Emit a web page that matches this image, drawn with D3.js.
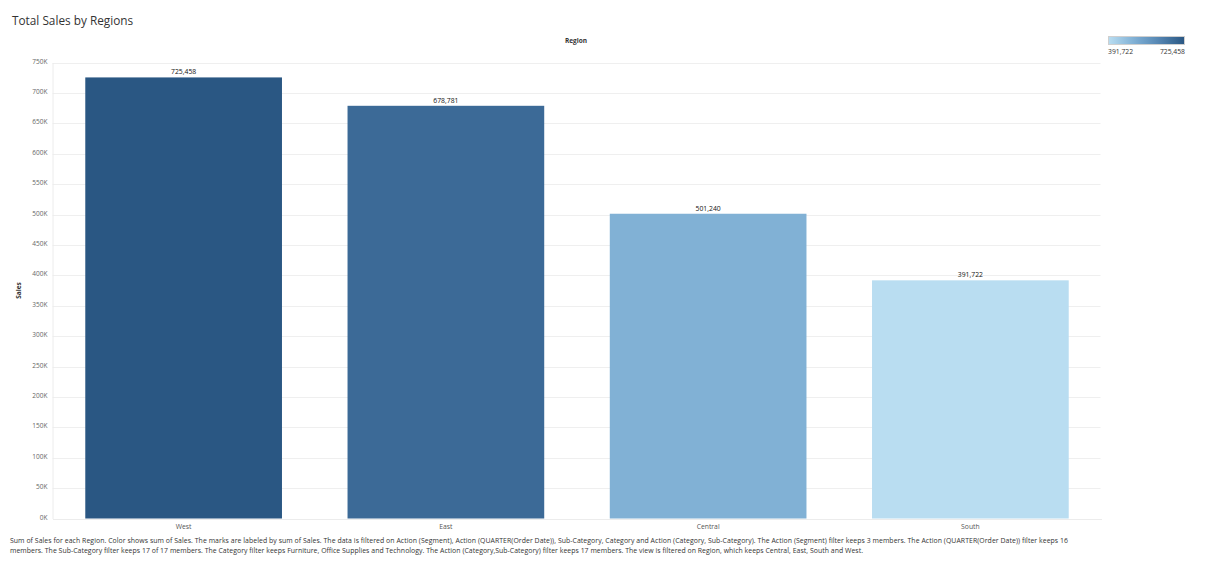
<!DOCTYPE html>
<html>
<head>
<meta charset="utf-8">
<script src="https://cdn.jsdelivr.net/npm/d3@7"></script>
<style>
  html, body { margin: 0; padding: 0; background: #fff; }
  svg { display: block; font-family: "Open Sans", "Noto Sans", sans-serif; }
</style>
</head>
<body>
<svg id="chart" width="1205" height="581"></svg>
<script>
const regions = ["West", "East", "Central", "South"];
const sales = [725458, 678781, 501240, 391722];
const yTicks = [0, 50000, 100000, 150000, 200000, 250000, 300000, 350000, 400000, 450000, 500000, 550000, 600000, 650000, 700000, 750000];
const blueRamp = ["#b9ddf1", "#80b0d5", "#5485b2", "#2a5783"];
const captionLines = [
  "Sum of Sales for each Region.  Color shows sum of Sales.  The marks are labeled by sum of Sales.  The data is filtered on Action (Segment), Action (QUARTER(Order Date)), Sub-Category, Category and Action (Category, Sub-Category). The Action (Segment) filter keeps 3 members. The Action (QUARTER(Order Date)) filter keeps 16",
  "members.  The Sub-Category filter keeps 17 of 17 members. The Category filter keeps Furniture, Office Supplies and Technology. The Action (Category,Sub-Category) filter keeps 17 members. The view is filtered on Region, which keeps Central, East, South and West."
];

const svg = d3.select("#chart");
const pLeft = 52.5, pRight = 1101.5, pTop = 62.5, pBottom = 518.5;

const x = d3.scaleBand().domain(regions).range([pLeft, pRight]).paddingInner(0.25).paddingOuter(0.125);
const y = d3.scaleLinear().domain([0, 750000]).range([pBottom, pTop]);
const minV = d3.min(sales), maxV = d3.max(sales);
const rampInterp = d3.piecewise(d3.interpolateRgb, blueRamp);
const color = d3.scaleSequential(rampInterp).domain([minV, maxV]);

// Title
svg.append("text").attr("x", 12).attr("y", 25).attr("font-size", 11.8).attr("fill", "#333")
  .text("Total Sales by Regions");

// Header
svg.append("text").attr("x", 576).attr("y", 43).attr("text-anchor", "middle")
  .attr("font-size", 6.5).attr("font-weight", "bold").attr("fill", "#333").text("Region");

// Gridlines
svg.append("g").selectAll("line").data(yTicks.filter(d => d > 0)).join("line")
  .attr("x1", pLeft).attr("x2", pRight - 1)
  .attr("y1", d => Math.round(y(d)) + 0.5).attr("y2", d => Math.round(y(d)) + 0.5)
  .attr("stroke", "#efefef").attr("stroke-width", 1);

// Y axis
const yAxis = d3.axisLeft(y).tickValues(yTicks).tickSize(0).tickPadding(5)
  .tickFormat(d => (d / 1000) + "K");
const gy = svg.append("g").attr("transform", `translate(${pLeft},0)`).call(yAxis);
gy.select(".domain").attr("stroke", "#ececec");
gy.selectAll("text").attr("font-size", 6.5).attr("fill", "#666").attr("font-family", "'Open Sans', sans-serif")
  .attr("dy", "0.1em");

// Y title
svg.append("text").attr("transform", `translate(21,${(pTop + pBottom) / 2}) rotate(-90)`)
  .attr("text-anchor", "middle").attr("font-size", 6.5).attr("font-weight", "bold").attr("fill", "#333").text("Sales");

// Bars
svg.append("g").selectAll("rect").data(regions).join("rect")
  .attr("x", d => x(d)).attr("width", x.bandwidth())
  .attr("y", (d, i) => y(sales[i])).attr("height", (d, i) => pBottom - y(sales[i]))
  .attr("fill", (d, i) => color(sales[i]));

// Value labels
svg.append("g").selectAll("text").data(regions).join("text")
  .attr("x", d => x(d) + x.bandwidth() / 2).attr("y", (d, i) => y(sales[i]) - 3)
  .attr("text-anchor", "middle").attr("font-size", 6.8).attr("fill", "#111")
  .text((d, i) => d3.format(",")(sales[i]));

// X axis
const xAxis = d3.axisBottom(x).tickSize(0).tickPadding(5);
const gx = svg.append("g").attr("transform", `translate(0,${pBottom + 0.5})`).call(xAxis);
gx.select(".domain").attr("stroke", "#ececec");
gx.selectAll("text").attr("font-size", 6.8).attr("fill", "#555").attr("font-family", "'Open Sans', sans-serif");

// Legend
const defs = svg.append("defs");
const grad = defs.append("linearGradient").attr("id", "lg").attr("x1", "0%").attr("x2", "100%");
d3.range(0, 1.0001, 0.1).forEach(t => {
  grad.append("stop").attr("offset", (t * 100) + "%").attr("stop-color", rampInterp(t));
});
svg.append("rect").attr("x", 1108.5).attr("y", 36.5).attr("width", 76).attr("height", 8)
  .attr("fill", "url(#lg)").attr("stroke", "#cfcfcf");
svg.append("text").attr("x", 1108).attr("y", 53.5).attr("font-size", 6.8).attr("fill", "#333")
  .text(d3.format(",")(minV));
svg.append("text").attr("x", 1185).attr("y", 53.5).attr("text-anchor", "end").attr("font-size", 6.8).attr("fill", "#333")
  .text(d3.format(",")(maxV));

// Caption
const capWidths = [1058, 853];
svg.append("g").selectAll("text").data(captionLines).join("text")
  .attr("x", 10).attr("y", (d, i) => 543 + i * 10)
  .attr("font-size", 6.9).attr("fill", "#333")
  .each(function (d, i) {
    const t = d3.select(this).text(d);
    if (capWidths[i]) t.attr("textLength", capWidths[i]).attr("lengthAdjust", "spacing");
  });
</script>
</body>
</html>
